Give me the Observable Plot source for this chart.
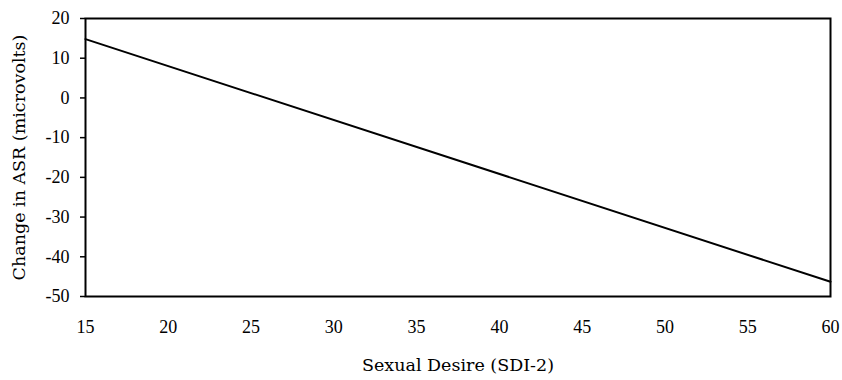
<!DOCTYPE html>
<html>
<head>
<meta charset="utf-8">
<script src="https://cdn.jsdelivr.net/npm/d3@7"></script>
<script src="https://cdn.jsdelivr.net/npm/@observablehq/plot@0.6"></script>
<style>
  html, body { margin: 0; padding: 0; background: #fff; }
  #chart svg { display: block; }
  #chart svg text { font-size: 18px; font-family: 'Liberation Serif', serif; fill: #000; }
  #chart svg g[aria-label="x-axis label"] text,
  #chart svg g[aria-label="y-axis label"] text { font-family: 'DejaVu Serif', serif; font-size: 17.5px; }
</style>
</head>
<body>
<div id="chart"></div>
<script>
const sexualDesire = [15, 60];
const changeASR = [14.8, -46.3];
const xTicks = [15, 20, 25, 30, 35, 40, 45, 50, 55, 60];
const yTicks = [20, 10, 0, -10, -20, -30, -40, -50];

const data = sexualDesire.map((x, i) => ({x, y: changeASR[i]}));

const chart = Plot.plot({
  width: 842,
  height: 380,
  marginLeft: 85,
  marginRight: 12,
  marginTop: 18,
  marginBottom: 84,
  style: {fontFamily: "'Liberation Serif', serif", fontSize: "18px", color: "#000", background: "#fff"},
  x: {domain: [15, 60]},
  y: {domain: [-50, 20]},
  marks: [
    Plot.frame({stroke: "#000", strokeWidth: 2}),
    Plot.axisX({ticks: xTicks, tickSize: 0, tickPadding: 24, tickFormat: d => String(d),
      label: "Sexual Desire (SDI-2)", labelAnchor: "center", labelArrow: "none", labelOffset: 74}),
    Plot.axisY({ticks: yTicks, tickSize: 5, tickPadding: 11, strokeWidth: 1.5, tickFormat: d => d < 0 ? "-" + Math.abs(d) : String(d),
      label: "Change in ASR (microvolts)", labelAnchor: "center", labelArrow: "none", labelOffset: 73}),
    Plot.line(data, {x: "x", y: "y", stroke: "#000", strokeWidth: 2})
  ]
});
document.getElementById("chart").append(chart);
</script>
</body>
</html>
